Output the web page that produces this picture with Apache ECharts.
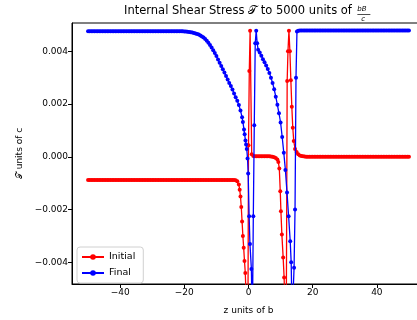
<!DOCTYPE html>
<html>
<head>
<meta charset="utf-8">
<script src="https://cdn.jsdelivr.net/npm/echarts@6/dist/echarts.min.js"></script>
<style>
  html, body { margin: 0; padding: 0; width: 417px; height: 320px; overflow: hidden; background: #fff; }
  #chart { width: 430px; height: 320px; }
</style>
</head>
<body>
<div id="chart"></div>
<script>
// z positions (units of b) and shear stress (units of c) for the initial state
const zInitial = [
  -50, -49.5, -49, -48.5, -48, -47.5, -47, -46.5, -46, -45.5,
  -45, -44.5, -44, -43.5, -43, -42.5, -42, -41.5, -41, -40.5,
  -40, -39.5, -39, -38.5, -38, -37.5, -37, -36.5, -36, -35.5,
  -35, -34.5, -34, -33.5, -33, -32.5, -32, -31.5, -31, -30.5,
  -30, -29.5, -29, -28.5, -28, -27.5, -27, -26.5, -26, -25.5,
  -25, -24.5, -24, -23.5, -23, -22.5, -22, -21.5, -21, -20.5,
  -20, -19.5, -19, -18.5, -18, -17.5, -17, -16.5, -16, -15.5,
  -15, -14.5, -14, -13.5, -13, -12.5, -12, -11.5, -11, -10.5,
  -10, -9.5, -9, -8.5, -8, -7.5, -7, -6.5, -6, -5.5,
  -5,
  -4.5, -4, -3.5, -3,
  -2.75, -2.5, -2.25, -2, -1.75, -1.5, -1.25, -1, -0.75, -0.5, -0.25, 0, 0.25, 0.5,
  1, 1.5, 2, 2.5, 3, 3.5, 4, 4.5, 5, 5.5, 6, 6.5, 7, 7.5, 8, 8.5,
  9, 9.3, 9.6, 9.9, 10.1, 10.4, 10.8, 11.1, 11.4, 11.7,
  12.05, 12.3, 12.6, 12.9, 13.2, 13.5, 13.8, 14.1, 14.5, 15, 15.5, 16,
  16.5, 17, 17.5, 18, 18.5, 19, 19.5, 20, 20.5, 21,
  21.5, 22, 22.5, 23, 23.5, 24, 24.5, 25, 25.5, 26,
  26.5, 27, 27.5, 28, 28.5, 29, 29.5, 30, 30.5, 31,
  31.5, 32, 32.5, 33, 33.5, 34, 34.5, 35, 35.5, 36,
  36.5, 37, 37.5, 38, 38.5, 39, 39.5, 40, 40.5, 41,
  41.5, 42, 42.5, 43, 43.5, 44, 44.5, 45, 45.5, 46,
  46.5, 47, 47.5, 48, 48.5, 49, 49.5, 50
];
const tauInitial = [
  -0.00088, -0.00088, -0.00088, -0.00088, -0.00088, -0.00088, -0.00088, -0.00088, -0.00088, -0.00088,
  -0.00088, -0.00088, -0.00088, -0.00088, -0.00088, -0.00088, -0.00088, -0.00088, -0.00088, -0.00088,
  -0.00088, -0.00088, -0.00088, -0.00088, -0.00088, -0.00088, -0.00088, -0.00088, -0.00088, -0.00088,
  -0.00088, -0.00088, -0.00088, -0.00088, -0.00088, -0.00088, -0.00088, -0.00088, -0.00088, -0.00088,
  -0.00088, -0.00088, -0.00088, -0.00088, -0.00088, -0.00088, -0.00088, -0.00088, -0.00088, -0.00088,
  -0.00088, -0.00088, -0.00088, -0.00088, -0.00088, -0.00088, -0.00088, -0.00088, -0.00088, -0.00088,
  -0.00088, -0.00088, -0.00088, -0.00088, -0.00088, -0.00088, -0.00088, -0.00088, -0.00088, -0.00088,
  -0.00088, -0.00088, -0.00088, -0.00088, -0.00088, -0.00088, -0.00088, -0.00088, -0.00088, -0.00088,
  -0.00088, -0.00088, -0.00088, -0.00088, -0.00088, -0.00088, -0.00088, -0.00088, -0.00088, -0.00088,
  -0.00088,
  -0.00088, -0.00089, -0.00093, -0.00105,
  -0.00125, -0.00150, -0.00190, -0.00245, -0.00300, -0.00345, -0.00395, -0.00440, -0.00530, -0.00700, -0.00900, 0.00044, 0.00325, 0.00478,
  0.00010, 0.00003, 0.00002, 0.00002, 0.00002, 0.00002, 0.00002, 0.00002, 0.00002, 0.00002, 0.00002, 0.00002, 0.00001, 0.00000, -0.00002, -0.00005,
  -0.00010, -0.00020, -0.00044, -0.00131, -0.00206, -0.00294, -0.00382, -0.00457, -0.00600, -0.00850,
  0.00287, 0.00400, 0.00478, 0.00400, 0.00290, 0.00190, 0.00110, 0.00060, 0.00030, 0.00018, 0.00010, 0.00005,
  0.00003, 0.00002, 0.00001, 0, 0, 0, 0, 0, 0, 0,
  0, 0, 0, 0, 0, 0, 0, 0, 0, 0,
  0, 0, 0, 0, 0, 0, 0, 0, 0, 0,
  0, 0, 0, 0, 0, 0, 0, 0, 0, 0,
  0, 0, 0, 0, 0, 0, 0, 0, 0, 0,
  0, 0, 0, 0, 0, 0, 0, 0, 0, 0,
  0, 0, 0, 0, 0, 0, 0, 0
];

// z positions (units of b) and shear stress (units of c) for the final state
const zFinal = [
  -50, -49.5, -49, -48.5, -48, -47.5, -47, -46.5, -46, -45.5,
  -45, -44.5, -44, -43.5, -43, -42.5, -42, -41.5, -41, -40.5,
  -40, -39.5, -39, -38.5, -38, -37.5, -37, -36.5, -36, -35.5,
  -35, -34.5, -34, -33.5, -33, -32.5, -32, -31.5, -31, -30.5,
  -30, -29.5, -29, -28.5, -28, -27.5, -27, -26.5, -26, -25.5,
  -25, -24.5, -24, -23.5, -23, -22.5, -22, -21.5, -21, -20.5,
  -20, -19.5, -19, -18.5, -18, -17.5, -17, -16.5, -16, -15.5,
  -15, -14.5, -14, -13.5, -13, -12.5, -12, -11.5, -11, -10.5,
  -10, -9.5, -9, -8.5, -8, -7.5, -7, -6.5, -6, -5.5, -5, -4.5, -4, -3.5, -3,
  -2.5, -2,
  -1.75, -1.4, -1.2, -0.95, -0.75, -0.55, -0.3, -0.1,
  0.2, 0.45, 0.9, 1.2, 1.5, 1.8, 2.1, 2.4, 2.7,
  3, 3.5, 4, 4.5, 5, 5.5, 6, 6.5, 7, 7.5, 8, 8.5, 9, 9.5, 10, 10.5, 11, 11.5, 12, 12.5, 13,
  13.3, 13.6, 14.2, 14.5, 14.8, 15.1, 15.5,
  16, 16.5, 17, 17.5, 18, 18.5, 19, 19.5, 20, 20.5,
  21, 21.5, 22, 22.5, 23, 23.5, 24, 24.5, 25, 25.5,
  26, 26.5, 27, 27.5, 28, 28.5, 29, 29.5, 30, 30.5,
  31, 31.5, 32, 32.5, 33, 33.5, 34, 34.5, 35, 35.5,
  36, 36.5, 37, 37.5, 38, 38.5, 39, 39.5, 40, 40.5,
  41, 41.5, 42, 42.5, 43, 43.5, 44, 44.5, 45, 45.5,
  46, 46.5, 47, 47.5, 48, 48.5, 49, 49.5, 50
];
const tauFinal = [
  0.00476, 0.00476, 0.00476, 0.00476, 0.00476, 0.00476, 0.00476, 0.00476, 0.00476, 0.00476,
  0.00476, 0.00476, 0.00476, 0.00476, 0.00476, 0.00476, 0.00476, 0.00476, 0.00476, 0.00476,
  0.00476, 0.00476, 0.00476, 0.00476, 0.00476, 0.00476, 0.00476, 0.00476, 0.00476, 0.00476,
  0.00476, 0.00476, 0.00476, 0.00476, 0.00476, 0.00476, 0.00476, 0.00476, 0.00476, 0.00476,
  0.00476, 0.00476, 0.00476, 0.00476, 0.00476, 0.00476, 0.00476, 0.00476, 0.00476, 0.00476,
  0.00476, 0.00476, 0.00476, 0.00476, 0.00476, 0.00476, 0.00476, 0.00476, 0.00476, 0.00476,
  0.00475, 0.00475, 0.00474, 0.00473, 0.00472, 0.00471, 0.00469, 0.00467, 0.00465, 0.00463,
  0.00460, 0.00456, 0.00452, 0.00446, 0.00440, 0.00432, 0.00424, 0.00414, 0.00404, 0.00393,
  0.00382, 0.00369, 0.00356, 0.00344, 0.00332, 0.00319, 0.00306, 0.00293, 0.00280, 0.00268, 0.00255, 0.00240, 0.00226, 0.00212, 0.00196,
  0.00175, 0.00150,
  0.00132, 0.00103, 0.00085, 0.00062, 0.00047, 0.00030, -0.00006, -0.00063,
  -0.00225, -0.00330, -0.00425, -0.00650, -0.00225, 0.00120, 0.00430, 0.00478, 0.00430,
  0.00406, 0.00395, 0.00383, 0.00370, 0.00358, 0.00346, 0.00333, 0.00318, 0.00300, 0.00280, 0.00256, 0.00228, 0.00197, 0.00165, 0.00130, 0.00075, 0.00015, -0.00050, -0.00135, -0.00225, -0.00320,
  -0.00400, -0.00620, -0.00420, -0.00200, 0.00300, 0.00475, 0.00478,
  0.00479, 0.00479, 0.00479, 0.00479, 0.00479, 0.00479, 0.00479, 0.00479, 0.00479, 0.00479,
  0.00479, 0.00479, 0.00479, 0.00479, 0.00479, 0.00479, 0.00479, 0.00479, 0.00479, 0.00479,
  0.00479, 0.00479, 0.00479, 0.00479, 0.00479, 0.00479, 0.00479, 0.00479, 0.00479, 0.00479,
  0.00479, 0.00479, 0.00479, 0.00479, 0.00479, 0.00479, 0.00479, 0.00479, 0.00479, 0.00479,
  0.00479, 0.00479, 0.00479, 0.00479, 0.00479, 0.00479, 0.00479, 0.00479, 0.00479, 0.00479,
  0.00479, 0.00479, 0.00479, 0.00479, 0.00479, 0.00479, 0.00479, 0.00479, 0.00479, 0.00479,
  0.00479, 0.00479, 0.00479, 0.00479, 0.00479, 0.00479, 0.00479, 0.00479, 0.00479
];

const xTicks = [-40, -20, 0, 20, 40];
const yTicks = [-0.004, -0.002, 0, 0.002, 0.004];
const seriesNames = ['Initial', 'Final'];

const FONT = 'DejaVu Sans';
const TITLE = 'Internal Shear Stress \u{1D4AF} to 5000 units of';
const TITLE_FONT = '11.5px "' + FONT + '"';
const minus = s => s.replace('-', '\u2212');
const pairs = (zs, vs) => zs.map((z, i) => [z, vs[i]]);

// place the bB/c fraction right after the title text
const measure = document.createElement('canvas').getContext('2d');
measure.font = TITLE_FONT;
const titleLeft = 124;
const fracLeft = titleLeft + measure.measureText(TITLE).width + 3;

const chart = echarts.init(document.getElementById('chart'), null, { renderer: 'canvas' });

const axisCommon = {
  axisLine: { show: true, onZero: false, lineStyle: { color: '#000', width: 1 } },
  axisTick: { show: true, inside: false, length: 4, lineStyle: { color: '#000', width: 1 } },
  splitLine: { show: false },
  axisLabel: { color: '#000', fontFamily: FONT, fontSize: 9, margin: 4 }
};

chart.setOption({
  animation: false,
  backgroundColor: '#fff',
  grid: { left: 72, top: 23, right: 5, bottom: 33, show: true, borderColor: '#000', borderWidth: 1, containLabel: false },
  xAxis: {
    type: 'value',
    min: -55, max: 55,
    ...axisCommon,
    axisTick: { ...axisCommon.axisTick, customValues: xTicks },
    axisLabel: { ...axisCommon.axisLabel, customValues: xTicks, formatter: v => minus(String(v)) },
    name: 'z units of b',
    nameLocation: 'middle',
    nameGap: 22,
    nameTextStyle: { color: '#000', fontFamily: FONT, fontSize: 9 }
  },
  yAxis: {
    type: 'value',
    min: -0.00482, max: 0.00507,
    ...axisCommon,
    axisTick: { ...axisCommon.axisTick, customValues: yTicks },
    axisLabel: { ...axisCommon.axisLabel, customValues: yTicks, formatter: v => minus(v.toFixed(3)) },
    name: '\u{1D4AF} units of c',
    nameLocation: 'middle',
    nameGap: 47,
    nameTextStyle: { color: '#000', fontFamily: FONT, fontSize: 9 }
  },
  legend: {
    left: 77, top: 247,
    orient: 'vertical',
    itemWidth: 22, itemHeight: 7, itemGap: 6,
    padding: [5, 8, 5, 4],
    borderColor: '#d0d0d0', borderWidth: 1, borderRadius: 3,
    backgroundColor: 'rgba(255,255,255,0.8)',
    textStyle: { color: '#000', fontFamily: FONT, fontSize: 9.5 },
    data: seriesNames
  },
  graphic: [
    {
      type: 'text', left: titleLeft, top: 5,
      style: { text: TITLE, fill: '#000', font: TITLE_FONT }
    },
    {
      type: 'group', left: fracLeft, top: 6,
      children: [
        { type: 'text', x: 0, y: 0, style: { text: 'bB', fill: '#000', font: 'italic 7px "' + FONT + '"' } },
        { type: 'line', shape: { x1: 0, y1: 8.5, x2: 13, y2: 8.5 }, style: { stroke: '#000', lineWidth: 0.7 } },
        { type: 'text', x: 4, y: 9.5, style: { text: 'c', fill: '#000', font: 'italic 7px "' + FONT + '"' } }
      ]
    }
  ],
  series: [
    {
      name: seriesNames[0], type: 'line', data: pairs(zInitial, tauInitial),
      color: '#ff0000', symbol: 'circle', symbolSize: 4, showSymbol: true,
      lineStyle: { width: 1.3, color: '#ff0000' }, itemStyle: { color: '#ff0000' },
      clip: true, z: 2
    },
    {
      name: seriesNames[1], type: 'line', data: pairs(zFinal, tauFinal),
      color: '#0000ff', symbol: 'circle', symbolSize: 4, showSymbol: true,
      lineStyle: { width: 1.3, color: '#0000ff' }, itemStyle: { color: '#0000ff' },
      clip: true, z: 3
    }
  ]
});
</script>
</body>
</html>
